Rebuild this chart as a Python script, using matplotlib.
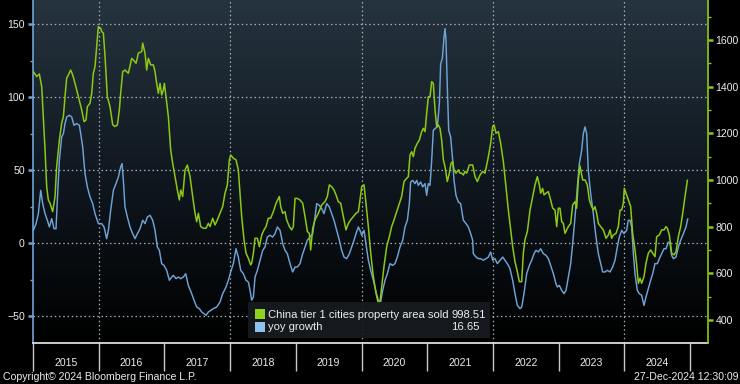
import matplotlib
matplotlib.use('Agg')
import matplotlib.pyplot as plt
from matplotlib.colors import LinearSegmentedColormap
from matplotlib.patches import Rectangle
import numpy as np

plt.rcParams['font.family'] = ['Liberation Sans', 'DejaVu Sans']

# China tier 1 cities property area sold (right axis), decimal years
green_t = [
    2015.005, 2015.056, 2015.096, 2015.132, 2015.157, 2015.183, 2015.208, 2015.233, 2015.259, 2015.299,
    2015.335, 2015.360, 2015.401, 2015.436, 2015.462, 2015.487, 2015.512, 2015.538, 2015.573, 2015.604,
    2015.639, 2015.690, 2015.741, 2015.776, 2015.807, 2015.827, 2015.868, 2015.893, 2015.918, 2015.944,
    2015.969, 2015.994, 2016.030, 2016.045, 2016.071, 2016.096, 2016.131, 2016.172, 2016.213, 2016.248,
    2016.284, 2016.314, 2016.334, 2016.365, 2016.400, 2016.451, 2016.502, 2016.527, 2016.568, 2016.603,
    2016.654,
    2016.669, 2016.705, 2016.730, 2016.755, 2016.791, 2016.832, 2016.857, 2016.882, 2016.908, 2016.933,
    2016.958, 2016.984, 2016.999, 2017.024, 2017.060, 2017.095, 2017.126, 2017.161, 2017.197, 2017.227,
    2017.248, 2017.278, 2017.314, 2017.349, 2017.390, 2017.430, 2017.466, 2017.491, 2017.517, 2017.552,
    2017.593, 2017.633, 2017.669, 2017.694, 2017.735, 2017.770, 2017.806, 2017.846, 2017.887, 2017.922,
    2017.958, 2017.988, 2018.009, 2018.049, 2018.090, 2018.125, 2018.151, 2018.176, 2018.212, 2018.242,
    2018.278, 2018.313,
    2018.328, 2018.354, 2018.379, 2018.415, 2018.445, 2018.481, 2018.516, 2018.546, 2018.582, 2018.617,
    2018.658, 2018.699, 2018.734, 2018.749, 2018.770, 2018.800, 2018.836, 2018.861, 2018.902, 2018.937,
    2018.962, 2018.988, 2019.023, 2019.064, 2019.105, 2019.140, 2019.176, 2019.206, 2019.226, 2019.257,
    2019.292, 2019.343, 2019.394, 2019.444, 2019.480, 2019.510, 2019.546, 2019.581, 2019.612, 2019.647,
    2019.683, 2019.723, 2019.764, 2019.800, 2019.835, 2019.876, 2019.916, 2019.952, 2019.977,
    2020.003, 2020.038, 2020.068, 2020.104, 2020.140, 2020.180, 2020.221, 2020.256, 2020.282, 2020.307,
    2020.342, 2020.383, 2020.424, 2020.459, 2020.495, 2020.535, 2020.576, 2020.611, 2020.647, 2020.687,
    2020.713, 2020.738, 2020.764, 2020.789, 2020.814, 2020.850, 2020.880, 2020.916, 2020.941, 2020.967,
    2020.992, 2021.017, 2021.043, 2021.068, 2021.093, 2021.119, 2021.144, 2021.169, 2021.195, 2021.220,
    2021.246, 2021.271, 2021.306, 2021.337, 2021.362, 2021.388, 2021.408, 2021.438, 2021.474, 2021.499,
    2021.525, 2021.550, 2021.575, 2021.601, 2021.641,
    2021.692, 2021.728, 2021.763, 2021.804, 2021.844, 2021.880, 2021.905, 2021.931, 2021.966, 2021.996,
    2022.017, 2022.047, 2022.083, 2022.118, 2022.159, 2022.199, 2022.235, 2022.270, 2022.301, 2022.336,
    2022.372, 2022.402, 2022.438, 2022.463, 2022.488, 2022.524, 2022.565, 2022.605, 2022.641, 2022.676,
    2022.707, 2022.727, 2022.757, 2022.778, 2022.808, 2022.844, 2022.879, 2022.910, 2022.945, 2022.971,
    2022.996, 2023.021, 2023.047, 2023.072, 2023.097, 2023.123, 2023.148, 2023.184, 2023.214, 2023.250,
    2023.275, 2023.300, 2023.326,
    2023.366, 2023.402, 2023.437, 2023.468, 2023.503, 2023.529, 2023.554, 2023.579, 2023.605, 2023.640,
    2023.681, 2023.722, 2023.757, 2023.783, 2023.808, 2023.833, 2023.874, 2023.909, 2023.935, 2023.960,
    2023.985, 2024.000, 2024.026, 2024.061, 2024.097, 2024.127, 2024.163, 2024.188, 2024.214, 2024.239,
    2024.264, 2024.300, 2024.330, 2024.366, 2024.401, 2024.432, 2024.467, 2024.493, 2024.533, 2024.569,
    2024.604, 2024.635, 2024.655, 2024.686, 2024.721, 2024.757, 2024.787, 2024.823, 2024.858, 2024.889,
    2024.924, 2024.960,
]
green_v = [
    1464, 1443, 1454, 1400, 1271, 1129, 971, 914, 900, 864,
    929, 1057, 1171, 1243, 1271, 1357, 1436, 1450, 1471, 1450,
    1414, 1357, 1300, 1250, 1257, 1314, 1329, 1371, 1457, 1486,
    1571, 1657, 1650, 1636, 1629, 1529, 1357, 1314, 1236, 1229,
    1236, 1300, 1371, 1464, 1471, 1457, 1521, 1514, 1500, 1543,
    1550,
    1586, 1543, 1471, 1521, 1493, 1493, 1464, 1414, 1371, 1414,
    1364, 1386, 1414, 1357, 1271, 1129, 1071, 1014, 957, 914,
    957, 929, 1043, 1064, 1014, 929, 857, 821, 857, 800,
    793, 793, 814, 800, 836, 807, 829, 857, 886, 943,
    979, 1086, 1107, 1093, 1086, 1043, 943, 843, 743, 686,
    664, 636,
    643, 686, 750, 750, 714, 764, 786, 800, 836, 836,
    864, 900, 921, 929, 886, 857, 864, 829, 800, 786,
    800, 921, 921, 914, 900, 843, 779, 771, 700, 793,
    829, 857, 893, 907, 929, 979, 971, 957, 936, 907,
    900, 843, 786, 814, 829, 843, 857, 864, 914,
    971, 979, 900, 800, 686, 586, 514, 471, 479, 543,
    629, 714, 757, 800, 829, 864, 900, 929, 993, 1007,
    1014, 1107, 1121, 1100, 1136, 1157, 1171, 1207, 1221, 1207,
    1286, 1357, 1357, 1421, 1414, 1300, 1229, 1236, 1221, 1171,
    1086, 1057, 993, 1029, 1071, 1079, 1043, 1029, 1043, 1029,
    1029, 1021, 1036, 1029, 1064,
    1064, 1014, 993, 1021, 1036, 1029, 1064, 1100, 1157, 1229,
    1236, 1200, 1207, 1157, 1079, 971, 871, 786, 714, 650,
    607, 564, 564, 686, 743, 779, 871, 929, 979, 1014,
    979, 943, 964, 936, 943, 950, 914, 879, 871, 800,
    879, 879, 821, 814, 771, 786, 800, 814, 893, 907,
    879, 1000, 1060,
    1000, 1000, 979, 914, 886, 871, 886, 857, 814, 800,
    786, 750, 764, 786, 750, 764, 771, 800, 871, 871,
    900, 964, 943, 914, 886, 771, 700, 636, 557, 579,
    557, 586, 643, 686, 700, 686, 671, 757, 764, 786,
    786, 800, 793, 764, 686, 679, 693, 757, 800, 857,
    929, 998.51,
]

# yoy growth (left axis)
blue_t = [
    2015.005, 2015.046, 2015.081, 2015.117, 2015.147, 2015.183, 2015.218, 2015.249, 2015.284, 2015.320,
    2015.350, 2015.370, 2015.401, 2015.436, 2015.462, 2015.487, 2015.512, 2015.553, 2015.589, 2015.624,
    2015.665, 2015.705, 2015.726, 2015.756, 2015.791, 2015.827, 2015.868, 2015.908, 2015.944, 2015.994,
    2016.045, 2016.081, 2016.121, 2016.147, 2016.182, 2016.223, 2016.263, 2016.299, 2016.334, 2016.355,
    2016.375, 2016.400, 2016.436, 2016.476, 2016.517, 2016.553, 2016.588, 2016.629,
    2016.669, 2016.705, 2016.740, 2016.781, 2016.821, 2016.857, 2016.892, 2016.923, 2016.958, 2016.994,
    2017.035, 2017.075, 2017.111, 2017.136, 2017.177, 2017.212, 2017.248, 2017.288, 2017.324, 2017.364,
    2017.415, 2017.451, 2017.491, 2017.532, 2017.567, 2017.603, 2017.633, 2017.669, 2017.704, 2017.745,
    2017.796, 2017.846, 2017.887, 2017.938, 2017.973, 2018.009, 2018.049, 2018.090, 2018.125, 2018.161,
    2018.201, 2018.242, 2018.278, 2018.313,
    2018.328, 2018.354, 2018.379, 2018.415, 2018.455, 2018.496, 2018.531, 2018.567, 2018.607, 2018.648,
    2018.683, 2018.719, 2018.760, 2018.800, 2018.836, 2018.871, 2018.912, 2018.952, 2018.988, 2019.023,
    2019.064, 2019.105, 2019.140, 2019.176, 2019.216, 2019.257, 2019.292, 2019.318, 2019.358, 2019.394,
    2019.429, 2019.470, 2019.510, 2019.546, 2019.581, 2019.622, 2019.663, 2019.698, 2019.734, 2019.774,
    2019.815, 2019.850, 2019.886, 2019.916, 2019.952, 2019.987,
    2020.003, 2020.038, 2020.068, 2020.104, 2020.140, 2020.180, 2020.221, 2020.256, 2020.292, 2020.322,
    2020.358, 2020.393, 2020.434, 2020.474, 2020.510, 2020.545, 2020.586, 2020.627, 2020.662, 2020.698,
    2020.728, 2020.748, 2020.779, 2020.814, 2020.840, 2020.865, 2020.901, 2020.931, 2020.967, 2020.992,
    2021.017, 2021.043, 2021.068, 2021.093, 2021.119, 2021.154, 2021.185, 2021.205, 2021.230, 2021.256,
    2021.271, 2021.286, 2021.306, 2021.327, 2021.357, 2021.388, 2021.408, 2021.438, 2021.474, 2021.509,
    2021.550, 2021.591, 2021.626, 2021.662, 2021.692,
    2021.702, 2021.743, 2021.778, 2021.814, 2021.854, 2021.895, 2021.931, 2021.966, 2021.996, 2022.032,
    2022.067, 2022.108, 2022.149, 2022.184, 2022.220, 2022.260, 2022.301, 2022.336, 2022.372, 2022.413,
    2022.438, 2022.473, 2022.514, 2022.555, 2022.590, 2022.626, 2022.656, 2022.691, 2022.727, 2022.768,
    2022.808, 2022.844, 2022.879, 2022.920, 2022.960, 2022.981, 2023.011, 2023.047, 2023.082, 2023.113,
    2023.148, 2023.184, 2023.214, 2023.250, 2023.285, 2023.316, 2023.351,
    2023.376, 2023.402, 2023.427, 2023.452, 2023.488, 2023.529, 2023.569, 2023.605, 2023.640, 2023.671,
    2023.706, 2023.742, 2023.783, 2023.823, 2023.858, 2023.894, 2023.924, 2023.960, 2023.995, 2024.036,
    2024.061, 2024.087, 2024.112, 2024.138, 2024.163, 2024.198, 2024.229, 2024.264, 2024.300, 2024.330,
    2024.366, 2024.401, 2024.432, 2024.467, 2024.503, 2024.533, 2024.569, 2024.604, 2024.635, 2024.670,
    2024.696, 2024.721, 2024.747, 2024.787, 2024.823, 2024.858, 2024.899, 2024.939, 2024.965,
]
blue_v = [
    8.9, 13.5, 20.3, 36.3, 27.2, 20.3, 15.8, 11.2, 16.9, 10.0,
    10.0, 29.5, 56.8, 72.8, 75.1, 82.0, 86.5, 87.7, 86.5, 80.8,
    82.0, 80.8, 75.1, 66.0, 47.7, 38.6, 31.7, 27.2, 20.3, 13.5,
    13.5, 11.2, 3.2, 8.9, 22.6, 36.3, 40.9, 45.4, 52.3, 54.6,
    43.1, 24.9, 18.0, 11.2, 6.6, 3.2, 6.6, 10.0,
    15.8, 13.5, 18.0, 19.2, 15.8, 8.9, -2.5, -4.8, -13.9, -15.1,
    -18.5, -25.3, -23.1, -21.9, -24.2, -23.1, -24.2, -23.1, -20.8, -28.8,
    -34.5, -39.0, -43.6, -44.7, -47.0, -48.2, -49.3, -47.0, -45.9, -44.7,
    -43.6, -40.2, -34.5, -29.9, -25.3, -19.6, -13.9, -3.7, -9.4, -18.5,
    -20.8, -25.3, -26.5, -34.5,
    -39.0, -36.8, -23.1, -18.5, -11.6, -4.8, -2.5, 4.3, 5.5, 4.3,
    6.6, 11.2, 8.9, -0.2, -4.8, -7.1, -13.9, -19.6, -16.2, -16.2,
    -13.9, -7.1, -2.5, 2.1, 4.3, 6.6, 18.0, 27.2, 26.0, 23.7,
    20.3, 27.2, 24.9, 20.3, 15.8, 8.9, 2.1, -4.8, -9.4, -10.5,
    -7.1, -2.5, 2.1, 6.6, 11.2, 7.8,
    5.5, 8.9, -0.2, -11.6, -18.5, -25.3, -33.3, -39.0, -40.2, -32.2,
    -25.3, -20.8, -13.9, -15.1, -13.9, -9.4, -2.5, 2.1, 11.2, 15.8,
    27.2, 42.0, 43.1, 40.9, 43.1, 39.7, 42.0, 38.6, 40.9, 32.9,
    40.9, 39.7, 56.8, 77.4, 78.5, 79.7, 95.7, 123.1, 126.5, 141.3,
    147.0, 139.0, 107.1, 77.4, 72.8, 56.8, 43.1, 32.9, 28.3, 27.2,
    15.8, 13.5, 11.2, 6.6, 2.1,
    -7.1, -9.4, -10.5, -10.5, -11.6, -10.5, -9.4, -5.9, -11.6, -10.5,
    -13.9, -11.6, -9.4, -11.6, -13.9, -17.4, -25.3, -34.5, -42.5, -44.7,
    -43.6, -34.5, -20.8, -15.1, -11.6, -7.1, -4.8, -5.9, -3.7, -7.1,
    -8.2, -10.5, -15.1, -20.8, -27.6, -29.9, -28.8, -32.2, -34.5, -32.2,
    -23.1, -13.9, -0.2, 18.0, 38.6, 54.6, 63.7,
    75.1, 79.7, 75.1, 50.0, 34.0, 20.3, 4.3, -7.1, -13.9, -19.6,
    -19.6, -18.5, -19.6, -16.2, -11.6, -2.5, 4.3, 8.9, 6.6, 8.9,
    15.8, 15.8, 11.2, -7.1, -20.8, -32.2, -34.5, -35.6, -42.5, -36.8,
    -31.0, -25.3, -20.8, -13.9, -13.9, -10.5, -7.1, -3.7, -3.7, 0.9,
    -0.2, -8.2, -10.5, -9.4, -2.5, 2.1, 6.6, 11.2, 16.65,
]

years = list(range(2015, 2025))
left_ticks = [-50, 0, 50, 100, 150]
left_minor = [-25, 25, 75, 125]
right_ticks = [400, 600, 800, 1000, 1200, 1400, 1600]
right_minor = [500, 700, 900, 1100, 1300, 1500, 1700]

GREEN = '#8cc814'
BLUE = '#6fa3d6'
TXT = '#ececec'
GRID = '#a9aeb3'

W, H = 740, 384
fig = plt.figure(figsize=(W / 100, H / 100), dpi=100, facecolor='black')
ax = fig.add_axes([32.5 / W, 1 - 342.5 / H, (708 - 32.5) / W, 342.5 / H])
ax.set_facecolor('black')

# background gradient: dark slate at the top fading to black
bg = LinearSegmentedColormap.from_list('bg', ['#000000', '#101820', '#26343f'])
grad = np.linspace(0, 1, 256).reshape(-1, 1)
ax.imshow(grad, cmap=bg, aspect='auto', extent=[0, 1, 0, 1],
          transform=ax.transAxes, origin='lower', zorder=0)

for v in left_ticks:
    ax.axhline(v, color=GRID, lw=0.9, ls=(0, (1.2, 2.2)), zorder=1)
for yr in years[1::2]:
    ax.axvline(yr, color=GRID, lw=0.9, ls=(0, (1.2, 2.2)), zorder=1)

ax.plot(blue_t, blue_v, color=BLUE, lw=1.05, zorder=3)
ax.set_xlim(2014.992, 2025.274)
ax.set_ylim(-67.9, 166.6)

ax2 = ax.twinx()
ax2.plot(green_t, green_v, color=GREEN, lw=1.1, zorder=3)
ax2.set_ylim(303.5, 1771)

# left axis
ax.set_yticks(left_ticks)
ax.set_yticks(left_minor, minor=True)
ax.tick_params(axis='y', which='major', direction='out', length=3.5, width=1.8,
               color=BLUE, labelcolor=TXT, labelsize=7.6, pad=2)
ax.tick_params(axis='y', which='minor', direction='out', length=2.5, width=1,
               color=BLUE)

# bottom axis: year separators with centred year labels
ax.set_xticks(years + [2025])
ax.set_xticklabels([])
ax.set_xticks([y + 0.5 for y in years], minor=True)
ax.set_xticklabels([str(y) for y in years], minor=True)
ax.tick_params(axis='x', which='major', direction='out', length=20, width=1,
               color='#c8c8c8')
ax.tick_params(axis='x', which='minor', length=0, labelcolor=TXT,
               labelsize=7.6, pad=11)

# right axis
ax2.set_yticks(right_ticks)
ax2.set_yticks(right_minor, minor=True)
ax2.tick_params(axis='y', which='major', direction='out', length=3.5, width=1.8,
                color=GREEN, labelcolor=TXT, labelsize=7.6, pad=2)
ax2.tick_params(axis='y', which='minor', direction='out', length=2.5, width=1,
                color=GREEN)

for s in ['top', 'right']:
    ax.spines[s].set_visible(False)
ax.spines['left'].set_color(BLUE)
ax.spines['left'].set_linewidth(1.2)
ax.spines['bottom'].set_color('#f0f0f0')
ax.spines['bottom'].set_linewidth(1.2)
for s in ['top', 'left', 'bottom']:
    ax2.spines[s].set_visible(False)
ax2.spines['right'].set_color(GREEN)
ax2.spines['right'].set_linewidth(1.2)

# legend box
fig.patches.append(Rectangle((248 / W, 1 - 338 / H), (490 - 248) / W, 36 / H,
                             transform=fig.transFigure, facecolor='#171b20',
                             alpha=0.93, edgecolor='none'))
fig.patches.append(Rectangle((255 / W, 1 - 319 / H), 10 / W, 10 / H,
                             transform=fig.transFigure, facecolor='#8fd21c',
                             edgecolor='none'))
fig.patches.append(Rectangle((255 / W, 1 - 331.5 / H), 10 / W, 9.5 / H,
                             transform=fig.transFigure, facecolor='#8ec1ee',
                             edgecolor='none'))
LEG = 8.1
fig.text(268 / W, 1 - 315 / H, 'China tier 1 cities property area sold',
         color=TXT, fontsize=LEG, va='center')
fig.text(486 / W, 1 - 315 / H, '998.51', color=TXT, fontsize=LEG,
         va='center', ha='right')
fig.text(268 / W, 1 - 327.5 / H, 'yoy growth', color=TXT, fontsize=LEG,
         va='center')
fig.text(479.5 / W, 1 - 327.5 / H, '16.65', color=TXT, fontsize=LEG,
         va='center', ha='right')

# footer
fig.text(3 / W, 1 - 377 / H, 'Copyright\u00a9 2024 Bloomberg Finance L.P.',
         color=TXT, fontsize=7.6, va='center')
fig.text(739 / W, 1 - 377 / H, '27-Dec-2024 12:30:09', color=TXT,
         fontsize=7.6, va='center', ha='right')

fig.savefig('out.png', dpi=100, facecolor='black')
